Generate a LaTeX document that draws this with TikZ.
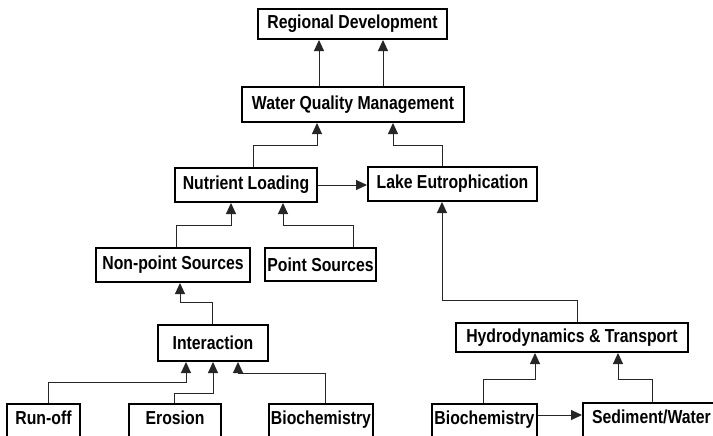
\documentclass[tikz,border=0pt]{standalone}
\usepackage{fontspec}
\setmainfont{Liberation Sans}[FakeStretch=0.84]
\usetikzlibrary{arrows.meta}

\begin{document}
\begin{tikzpicture}[
  x=0.5pt, y=-0.5pt,
  every node/.style={inner sep=1pt},
  box/.style={rectangle, draw=black, line width=1pt,
              font=\bfseries\fontsize{9.4}{11}\selectfont},
  cut/.style={box, anchor=north, inner ysep=3.5pt, text depth=5pt},
  conn/.style={-{Triangle[width=5pt,length=5.5pt]}, draw=black!85,
               line width=0.5pt},
]
  \useasboundingbox (0,0) rectangle (713,435);
  \clip (0,0) rectangle (713,435);
  \node[box, minimum width=94.5pt, minimum height=15pt] (rd) at (352.5,24) {Regional Development};
  \node[box, minimum width=111pt, minimum height=17.5pt] (wqm) at (353,104.5) {Water Quality Management};
  \node[box, minimum width=71pt, minimum height=17pt] (nl) at (246,185) {Nutrient Loading};
  \node[box, minimum width=84.5pt, minimum height=17pt] (le) at (452.5,184) {Lake Eutrophication};
  \node[box, minimum width=77pt, minimum height=17pt] (nps) at (173,265) {Non-point Sources};
  \node[box, minimum width=55.5pt, minimum height=16.5pt] (ps) at (320.5,264.5) {Point Sources};
  \node[box, minimum width=55pt, minimum height=18pt] (inter) at (213,343) {Interaction};
  \node[box, minimum width=116pt, minimum height=14.5pt] (ht) at (572,337.5) {Hydrodynamics \& Transport};
  \node[cut, minimum width=36.5pt] (ro) at (43.5,403) {Run-off};
  \node[cut, minimum width=46pt] (ero) at (175,403) {Erosion};
  \node[cut, minimum width=52pt] (bio) at (321,403) {Biochemistry};
  \node[cut, minimum width=52.5pt] (bio2) at (484.5,403) {Biochemistry};
  \node[cut, minimum width=68.5pt] (sed) at (651.5,402) {Sediment/Water};
  % upper levels
  \draw[conn] (wqm.north -| 319,0) -- (rd.south -| 319,0);
  \draw[conn] (wqm.north -| 383,0) -- (rd.south -| 383,0);
  \draw[conn] (nl.north -| 253,0) |- (317,145) -- (wqm.south -| 317,0);
  \draw[conn] (le.north -| 442,0) |- (393,145) -- (wqm.south -| 393,0);
  \draw[conn] (nl.east) -- (nl.east -| le.west);
  % sources
  \draw[conn] (nps.north -| 176,0) |- (231,225) -- (nl.south -| 231,0);
  \draw[conn] (ps.north -| 353,0) |- (283,225) -- (nl.south -| 283,0);
  \draw[conn] (inter.north -| 212,0) |- (180,302) -- (nps.south -| 180,0);
  \draw[conn] (ht.north -| 577,0) |- (442,300) -- (le.south -| 442,0);
  % bottom row
  \draw[conn] (ro.north -| 48,0) |- (186,382) -- (inter.south -| 186,0);
  \draw[conn] (ero.north -| 174,0) |- (213,393) -- (inter.south -| 213,0);
  \draw[conn] (bio.north -| 325,0) |- (238,373) -- (inter.south -| 238,0);
  \draw[conn] (bio2.north -| 483,0) |- (535,379) -- (ht.south -| 535,0);
  \draw[conn] (sed.north -| 652,0) |- (618,379) -- (ht.south -| 618,0);
  \draw[conn] (bio2.east |- 0,415) -- (sed.west |- 0,415);
\end{tikzpicture}
\end{document}
